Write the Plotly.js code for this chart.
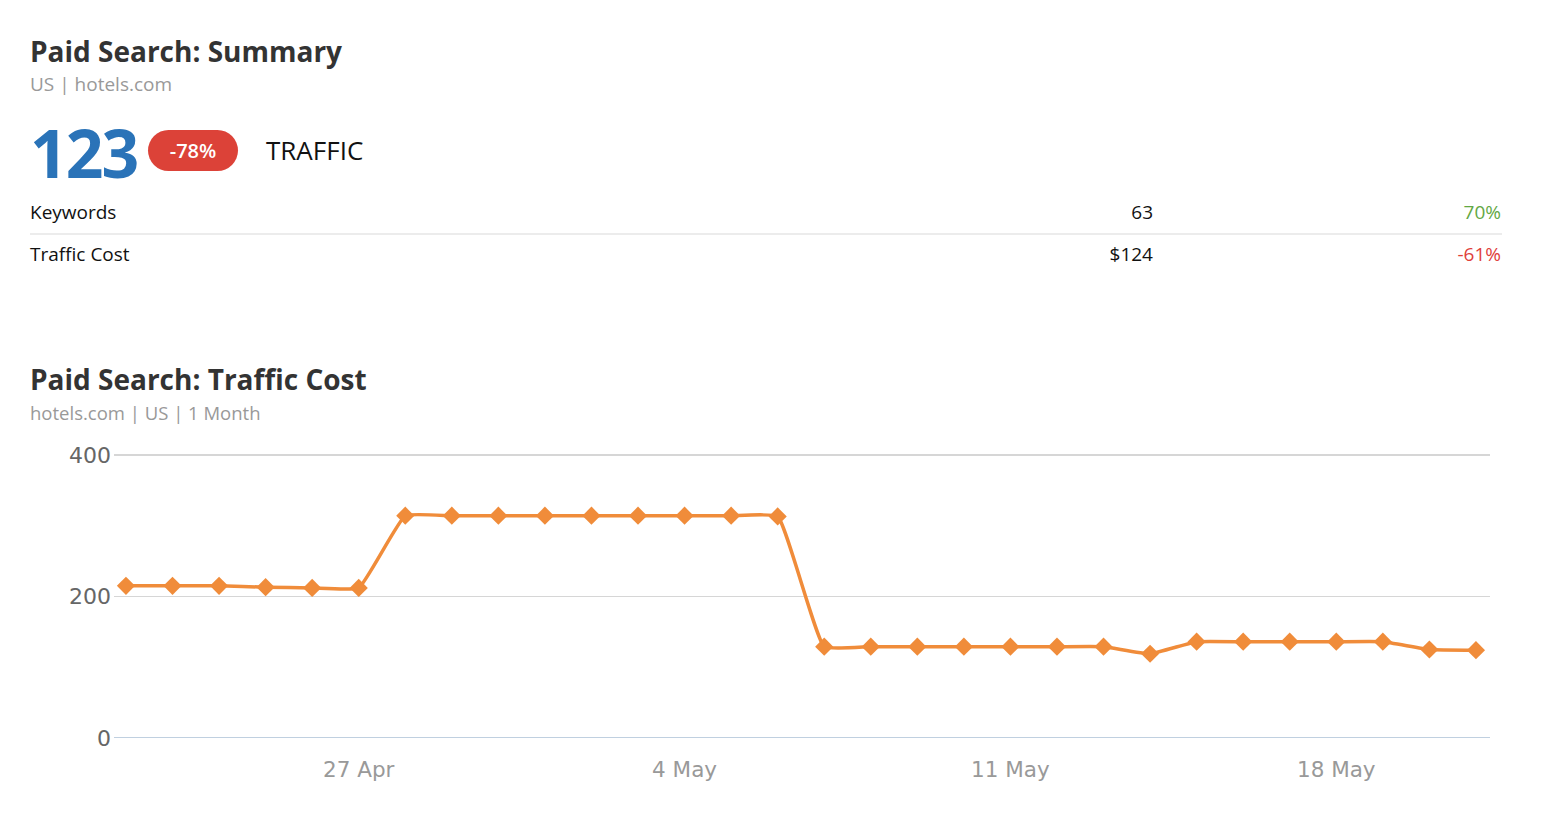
<!DOCTYPE html>
<html>
<head>
<meta charset="utf-8">
<script src="https://cdn.plot.ly/plotly-3.0.1.min.js"></script>
<style>
  html, body { margin: 0; padding: 0; background: #fff; }
  body { width: 1552px; height: 820px; position: relative; overflow: hidden; font-family: "Open Sans", "Noto Sans", sans-serif; }
  .abs { position: absolute; white-space: nowrap; }
  .h1 { font-weight: 700; font-size: 28px; color: #333; }
  .sub { font-size: 19px; color: #999; }
  .big { font-weight: 700; font-size: 66px; color: #2a73b8; letter-spacing: -2px; }
  .badge { background: #dc4238; color: #fff; font-size: 20px; font-weight: 600; border-radius: 21px; text-align: center; }
  .row { font-size: 19px; color: #111; }
  .sep { position: absolute; height: 2px; background: #ececec; }
  #chart { position: absolute; left: 0; top: 430px; width: 1552px; height: 390px; }
</style>
</head>
<body>
<div class="abs h1" id="t1" style="left:30px; top:32px;"></div>
<div class="abs sub" id="s1" style="left:30px; top:71px;"></div>
<div class="abs big" id="bigNum" style="left:30px; top:107px;"></div>
<div class="abs badge" id="badge" style="left:148px; top:130px; width:90px; height:41px; line-height:41px;"></div>
<div class="abs" id="metric" style="left:266px; top:132px; font-size:26px; color:#111;"></div>
<div class="abs row" id="r1l" style="left:30px; top:199px;"></div>
<div class="abs row" id="r1v" style="right:399px; top:199px; text-align:right;"></div>
<div class="abs row" id="r1c" style="right:51px; top:199px; text-align:right; color:#63a844;"></div>
<div class="sep" style="left:30px; top:233px; width:1472px;"></div>
<div class="abs row" id="r2l" style="left:30px; top:241px;"></div>
<div class="abs row" id="r2v" style="right:399px; top:241px; text-align:right;"></div>
<div class="abs row" id="r2c" style="right:51px; top:241px; text-align:right; color:#e0403a;"></div>
<div class="abs h1" id="t2" style="left:30px; top:360px;"></div>
<div class="abs sub" id="s2" style="left:30px; top:400px; font-size:18.5px;"></div>
<div id="chart"></div>
<script>
// ---- summary data ----
const summaryTitle = "Paid Search: Summary";
const summarySubtitle = "US | hotels.com";
const trafficValue = "123";
const trafficChange = "-78%";
const trafficLabel = "TRAFFIC";
const rowLabels = ["Keywords", "Traffic Cost"];
const rowValues = ["63", "$124"];
const rowChanges = ["70%", "-61%"];

// ---- chart data ----
const chartTitle = "Paid Search: Traffic Cost";
const chartSubtitle = "hotels.com | US | 1 Month";
const dates = [
  "2015-04-22","2015-04-23","2015-04-24","2015-04-25","2015-04-26","2015-04-27",
  "2015-04-28","2015-04-29","2015-04-30","2015-05-01","2015-05-02","2015-05-03",
  "2015-05-04","2015-05-05","2015-05-06","2015-05-07","2015-05-08","2015-05-09",
  "2015-05-10","2015-05-11","2015-05-12","2015-05-13","2015-05-14","2015-05-15",
  "2015-05-16","2015-05-17","2015-05-18","2015-05-19","2015-05-20","2015-05-21"
];
const trafficCost = [
  215, 215, 215, 213, 212, 212,
  314, 314, 314, 314, 314, 314,
  314, 314, 313, 129, 129, 129,
  129, 129, 129, 129, 119, 136,
  136, 136, 136, 136, 125, 124
];
const tickDates = ["2015-04-27", "2015-05-04", "2015-05-11", "2015-05-18"];
const tickLabels = ["27 Apr", "4 May", "11 May", "18 May"];
const yTicks = [0, 200, 400];

document.getElementById("t1").textContent = summaryTitle;
document.getElementById("s1").textContent = summarySubtitle;
document.getElementById("bigNum").textContent = trafficValue;
document.getElementById("badge").textContent = trafficChange;
document.getElementById("metric").textContent = trafficLabel;
document.getElementById("r1l").textContent = rowLabels[0];
document.getElementById("r1v").textContent = rowValues[0];
document.getElementById("r1c").textContent = rowChanges[0];
document.getElementById("r2l").textContent = rowLabels[1];
document.getElementById("r2v").textContent = rowValues[1];
document.getElementById("r2c").textContent = rowChanges[1];
document.getElementById("t2").textContent = chartTitle;
document.getElementById("s2").textContent = chartSubtitle;

const trace = {
  x: dates,
  y: trafficCost,
  type: "scatter",
  mode: "lines+markers",
  line: { color: "#f08c3a", width: 3.5, shape: "spline", smoothing: 0.35 },
  marker: { symbol: "diamond", size: 14, color: "#f08c3a" },
  hoverinfo: "x+y"
};

const layout = {
  width: 1552,
  height: 390,
  margin: { l: 114, r: 62, t: 22, b: 82 },
  paper_bgcolor: "#fff",
  plot_bgcolor: "#fff",
  showlegend: false,
  xaxis: {
    type: "date",
    range: ["2015-04-21 17:50", "2015-05-21 07:15"],
    tickmode: "array",
    tickvals: tickDates,
    ticktext: tickLabels,
    showgrid: false,
    zeroline: false,
    showline: false,
    ticks: "",
    tickfont: { family: "DejaVu Sans, sans-serif", size: 21.5, color: "#999" },
    ticklabelstandoff: 16
  },
  yaxis: {
    range: [0, 404],
    tickmode: "array",
    tickvals: yTicks,
    showgrid: true,
    gridcolor: "#d6d6d6",
    gridwidth: 1.5,
    zeroline: false,
    showline: false,
    ticks: "",
    tickfont: { family: "DejaVu Sans, sans-serif", size: 22, color: "#666" },
    ticklabelstandoff: 2
  },
  shapes: [{
    type: "line", xref: "paper", yref: "y", x0: 0, x1: 1, y0: 0, y1: 0,
    line: { color: "#c0d0e0", width: 2 }, layer: "above"
  }]
};

Plotly.newPlot("chart", [trace], layout, { displayModeBar: false, staticPlot: true });
</script>
</body>
</html>
